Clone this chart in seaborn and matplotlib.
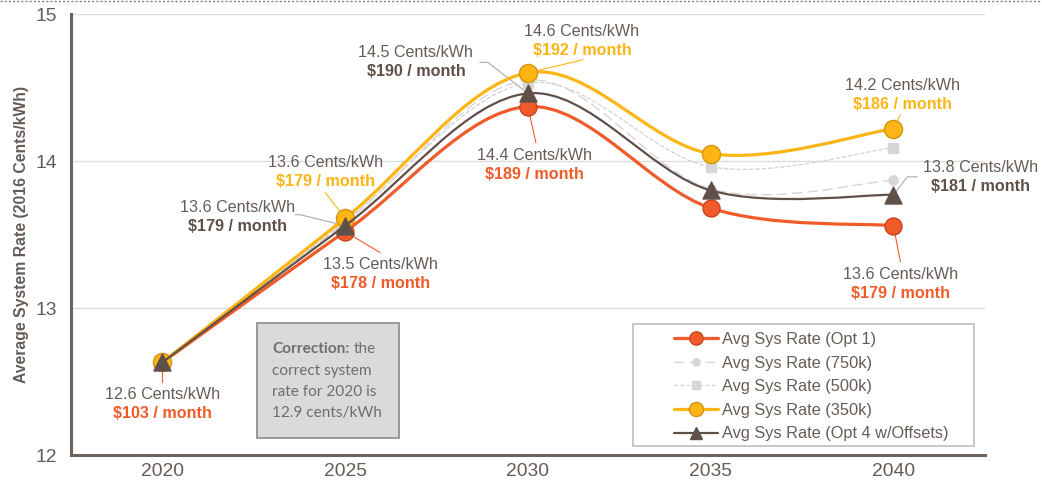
import numpy as np
import pandas as pd
import seaborn as sns
import matplotlib
matplotlib.use("Agg")
import matplotlib.pyplot as plt
from matplotlib.path import Path
from matplotlib.patches import PathPatch, Rectangle
from matplotlib.lines import Line2D
from matplotlib.transforms import IdentityTransform

# ---- data -------------------------------------------------------------
years = [2020, 2025, 2030, 2035, 2040]
series_names = [
    "Avg Sys Rate (Opt 1)",
    "Avg Sys Rate (750k)",
    "Avg Sys Rate (500k)",
    "Avg Sys Rate (350k)",
    "Avg Sys Rate (Opt 4 w/Offsets)",
]
rate_opt1 = [12.63, 13.52, 14.37, 13.68, 13.56]
rate_750k = [12.63, 13.58, 14.55, 13.81, 13.87]
rate_500k = [12.63, 13.59, 14.53, 13.96, 14.09]
rate_350k = [12.63, 13.61, 14.60, 14.05, 14.22]
rate_opt4 = [12.63, 13.56, 14.46, 13.80, 13.77]

# monthly bill shown under selected points (year -> $/month)
bill_opt1 = {2020: 103, 2025: 178, 2030: 189, 2040: 179}
bill_350k = {2025: 179, 2030: 192, 2040: 186}
bill_opt4 = {2025: 179, 2030: 190, 2040: 181}

y_ticks = [12, 13, 14, 15]
correction_note = ["the", "correct system", "rate for 2020 is", "12.9 cents/kWh"]

# ---- styling ----------------------------------------------------------
RED, GOLD, BROWN, LGREY = "#F15A29", "#FDB515", "#5F5049", "#D6D6D8"
TXT = "#665C57"
styles = {
    series_names[0]: dict(color=RED, lw=2.3, ls="-", marker="o", s=150, fc=RED, ec="#C8451C"),
    series_names[1]: dict(color=LGREY, lw=1.0, ls=(0, (7, 4)), marker="o", s=45, fc=LGREY, ec=LGREY),
    series_names[2]: dict(color=LGREY, lw=1.0, ls=(0, (2.5, 2)), marker="s", s=55, fc=LGREY, ec=LGREY),
    series_names[3]: dict(color=GOLD, lw=2.3, ls="-", marker="o", s=170, fc=GOLD, ec="#D49512"),
    series_names[4]: dict(color=BROWN, lw=1.6, ls="-", marker="^", s=150, fc=BROWN, ec=BROWN),
}
values = dict(zip(series_names, [rate_opt1, rate_750k, rate_500k, rate_350k, rate_opt4]))

df = pd.DataFrame(
    [(n, yr, v) for n in series_names for yr, v in zip(years, values[n])],
    columns=["series", "year", "rate"],
)

sns.set_theme(style="white")
plt.rcParams["font.family"] = ["Liberation Sans", "DejaVu Sans"]

fig = plt.figure(figsize=(10.42, 4.88), dpi=100)
ax = fig.add_axes([0.0681, 0.0676, 0.877, 0.9037])
ax.set_xlim(2017.5, 2042.5)
ax.set_ylim(12, 15)


def smooth_path(xs, ys):
    """Cubic Bezier path through the points (Catmull-Rom style tangents)."""
    pts = np.column_stack([xs, ys]).astype(float)
    n = len(pts)
    verts = [pts[0]]
    codes = [Path.MOVETO]
    for i in range(n - 1):
        p_prev = pts[i - 1] if i > 0 else pts[i]
        p_next2 = pts[i + 2] if i + 2 < n else pts[i + 1]
        c1 = pts[i] + (pts[i + 1] - p_prev) / 6.0
        c2 = pts[i + 1] - (p_next2 - pts[i]) / 6.0
        verts += [c1, c2, pts[i + 1]]
        codes += [Path.CURVE4] * 3
    return Path(np.array(verts), codes)


for z, name in enumerate(series_names):
    st = styles[name]
    sub = df[df.series == name]
    patch = PathPatch(smooth_path(sub.year, sub.rate), fill=False, edgecolor=st["color"],
                      lw=st["lw"], ls=st["ls"], zorder=3 + 2 * z, capstyle="round")
    ax.add_patch(patch)
    sns.scatterplot(data=sub, x="year", y="rate", marker=st["marker"], s=st["s"],
                    color=st["fc"], edgecolor=st["ec"], linewidth=1.0, ax=ax,
                    zorder=4 + 2 * z, legend=False)

# ---- axes look ----------------------------------------------------------
ax.set_xticks(years)
ax.set_xticklabels([str(y) for y in years])
ax.set_yticks(y_ticks)
ax.set_yticklabels([str(t) for t in y_ticks])
ax.tick_params(axis="x", length=0, labelsize=13.9, labelcolor=TXT, pad=6)
ax.tick_params(axis="y", length=0, labelsize=13.9, labelcolor=TXT, pad=10)
ax.yaxis.grid(True, color="#DCDCDC", lw=1.0)
ax.xaxis.grid(False)
ax.set_axisbelow(True)
for side in ("top", "right"):
    ax.spines[side].set_visible(False)
for side in ("left", "bottom"):
    ax.spines[side].set_color("#6E625C")
    ax.spines[side].set_linewidth(2.2)
ax.set_xlabel("")
ax.set_ylabel("Average System Rate (2016 Cents/kWh)", fontsize=11.3, fontweight="bold",
              color=TXT, labelpad=5)

# dotted rule along the top of the figure
fig.add_artist(Line2D([0.0, 0.998], [0.997, 0.997], transform=fig.transFigure,
                      color="#8C7D72", lw=1.0, ls=(0, (1.5, 1.5))))

fig.canvas.draw()


def to_px(x, y):
    return ax.transData.transform((x, y))


def label(series_vals, year, bill, color, text_off, leader):
    """Two-line value label with a thin leader line back to the marker."""
    v = series_vals[years.index(year)]
    px, py = to_px(year, v)
    tx, ty = px + text_off[0], py + text_off[1]
    fig.text(tx, ty, f"{v:.1f} Cents/kWh", transform=IdentityTransform(), ha="center",
             va="center", fontsize=11.6, color=TXT, zorder=20)
    fig.text(tx, ty - 19, f"${bill} / month", transform=IdentityTransform(), ha="center",
             va="center", fontsize=11.6, color=color, fontweight="bold", zorder=20)
    lx = [px] + [px + d[0] for d in leader]
    ly = [py] + [py + d[1] for d in leader]
    lc = "#AAAAAA" if color == BROWN else color
    ax.add_line(Line2D(lx, ly, transform=IdentityTransform(), color=lc, lw=0.8, zorder=2,
                       clip_on=False))


label(rate_opt1, 2020, bill_opt1[2020], RED, (0, -32), [(0, -20)])
label(rate_opt1, 2025, bill_opt1[2025], RED, (35, -33), [(35, -21)])
label(rate_opt1, 2030, bill_opt1[2030], RED, (7, -49), [(8, -36)])
label(rate_opt1, 2040, bill_opt1[2040], RED, (7, -49), [(7, -36)])

label(rate_350k, 2025, bill_350k[2025], GOLD, (-20, 56), [(-20, 26)])
label(rate_350k, 2030, bill_350k[2030], GOLD, (54, 41), [(55, 13)])
label(rate_350k, 2040, bill_350k[2040], GOLD, (9, 43), [(7, 14)])

label(rate_opt4, 2025, bill_opt4[2025], BROWN, (-108, 18), [(-45, 11), (-50, 11)])
label(rate_opt4, 2030, bill_opt4[2030], BROWN, (-112, 41), [(-40, 31), (-48, 31)])
label(rate_opt4, 2040, bill_opt4[2040], BROWN, (87, 27), [(14, 18), (24, 18)])

# ---- correction note ---------------------------------------------------
ax.add_patch(Rectangle((257, 488 - 438), 142, 115, transform=IdentityTransform(),
                       facecolor="#DADADB", edgecolor="#8A8A8A", lw=1.2, zorder=15))
note_kw = dict(transform=IdentityTransform(), fontsize=11.1, color="#6E6E6E",
               family=["Lato", "DejaVu Sans"], va="center", ha="left", zorder=16)
t_bold = fig.text(272, 488 - 349, "Correction:", fontweight="bold", **note_kw)
fig.canvas.draw()
bb = t_bold.get_window_extent()
fig.text(bb.x1 + 4, 488 - 349, correction_note[0], **note_kw)
for i, line in enumerate(correction_note[1:]):
    fig.text(272, 488 - 371 - 21 * i, line, **note_kw)

# ---- legend --------------------------------------------------------------
handles = []
for name in series_names:
    st = styles[name]
    msz = np.sqrt(st["s"]) * (0.78 if st["marker"] != "^" else 0.7)
    handles.append(Line2D([], [], color=st["color"], lw=st["lw"], ls=st["ls"],
                          marker=st["marker"], markersize=msz, markerfacecolor=st["fc"],
                          markeredgecolor=st["ec"]))
ax.add_patch(Rectangle((0.615, 0.02), 0.373, 0.277, transform=ax.transAxes,
                       facecolor="white", edgecolor="#BDBDBD", lw=1.2, zorder=15))
leg = ax.legend(handles, series_names, loc="upper left", bbox_to_anchor=(0.656, 0.286),
                frameon=False, fontsize=11.8, handlelength=2.7, handletextpad=0.22,
                labelspacing=0.52, borderpad=0.2, borderaxespad=0)
for t in leg.get_texts():
    t.set_color(TXT)
leg.set_zorder(16)

fig.savefig("out.png", dpi=100)
